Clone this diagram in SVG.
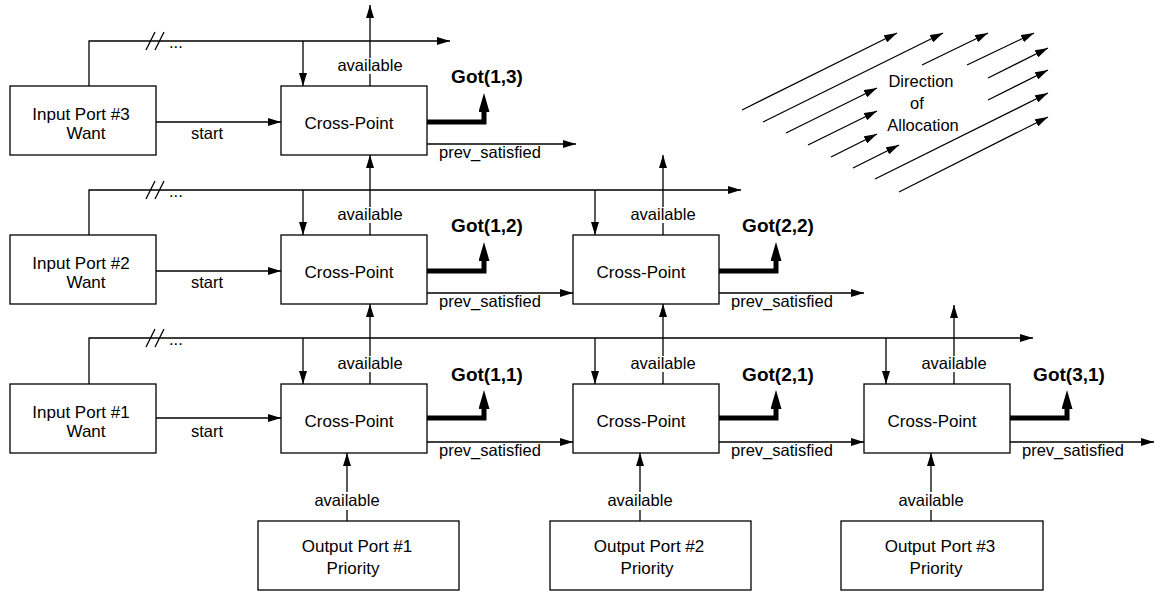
<svg xmlns="http://www.w3.org/2000/svg" width="1155" height="592" viewBox="0 0 1155 592">
<defs>
<style>
.box{fill:#fff;stroke:#000;stroke-width:1.3}
.ln{fill:none;stroke:#000;stroke-width:1.3}
.arr{marker-end:url(#ah)}
.thk{fill:none;stroke:#000;stroke-width:5;stroke-linejoin:miter;marker-end:url(#th)}
text{font-family:"Liberation Sans",Arial,Helvetica,sans-serif;fill:#000}
.lbl{font-size:16.5px}
.mid{text-anchor:middle}
.nl{font-size:17px;text-anchor:middle}
.got{font-size:19px;font-weight:bold;text-anchor:middle}
</style>
<marker id="ah" viewBox="0 0 13 8" refX="13" refY="4" markerWidth="13" markerHeight="8" orient="auto" markerUnits="userSpaceOnUse"><path d="M0,0 L13,4 L0,8 z" fill="#000"/></marker>
<marker id="th" viewBox="0 0 19 11" refX="0" refY="5.5" markerWidth="19" markerHeight="11" orient="auto" markerUnits="userSpaceOnUse"><path d="M0,0 L19,5.5 L0,11 z" fill="#000"/></marker>
</defs>
<rect width="1155" height="592" fill="#fff"/>

<g id="connectors">
  <!-- want buses -->
  <path class="ln arr" d="M89,86 V41 H450"/>
  <path class="ln arr" d="M89,235 V190 H741"/>
  <path class="ln arr" d="M89,384 V338 H1033"/>
  <!-- bus break marks -->
  <path class="ln" d="M146,50 L155,32 M155,50 L164,32"/>
  <path class="ln" d="M146,199 L155,181 M155,199 L164,181"/>
  <path class="ln" d="M146,347 L155,329 M155,347 L164,329"/>
  <text class="lbl" x="169" y="48">...</text>
  <text class="lbl" x="169" y="197">...</text>
  <text class="lbl" x="169" y="345">...</text>
  <!-- down arrows from buses -->
  <path class="ln arr" d="M303,41 V86"/>
  <path class="ln arr" d="M303,190 V235"/>
  <path class="ln arr" d="M595,190 V235"/>
  <path class="ln arr" d="M303,338 V384"/>
  <path class="ln arr" d="M595,338 V384"/>
  <path class="ln arr" d="M886,338 V384"/>
  <!-- start -->
  <path class="ln arr" d="M156,122 H281"/>
  <path class="ln arr" d="M156,271 H281"/>
  <path class="ln arr" d="M156,418 H281"/>
  <text class="lbl mid" x="207" y="139">start</text>
  <text class="lbl mid" x="207" y="288">start</text>
  <text class="lbl mid" x="207" y="437">start</text>
  <!-- available upward -->
  <path class="ln" d="M370,86 V74"/><path class="ln arr" d="M370,58 V5"/>
  <text class="lbl mid" x="370" y="71">available</text>
  <path class="ln" d="M370,235 V223"/><path class="ln arr" d="M370,207 V155"/>
  <text class="lbl mid" x="370" y="220">available</text>
  <path class="ln" d="M663,235 V223"/><path class="ln arr" d="M663,207 V155"/>
  <text class="lbl mid" x="663" y="220">available</text>
  <path class="ln" d="M370,384 V372"/><path class="ln arr" d="M370,356 V304"/>
  <text class="lbl mid" x="370" y="369">available</text>
  <path class="ln" d="M663,384 V372"/><path class="ln arr" d="M663,356 V304"/>
  <text class="lbl mid" x="663" y="369">available</text>
  <path class="ln" d="M954,384 V372"/><path class="ln arr" d="M954,356 V305"/>
  <text class="lbl mid" x="954" y="369">available</text>
  <!-- available from output ports -->
  <path class="ln" d="M347,521 V510"/><path class="ln arr" d="M347,492 V453"/>
  <text class="lbl mid" x="347" y="506">available</text>
  <path class="ln" d="M640,521 V510"/><path class="ln arr" d="M640,492 V453"/>
  <text class="lbl mid" x="640" y="506">available</text>
  <path class="ln" d="M931,521 V510"/><path class="ln arr" d="M931,492 V453"/>
  <text class="lbl mid" x="931" y="506">available</text>
  <!-- Got outputs -->
  <path class="thk" d="M427,122 H484 V112"/>
  <text class="got" x="487" y="83">Got(1,3)</text>
  <path class="thk" d="M427,271 H484 V261"/>
  <text class="got" x="487" y="232">Got(1,2)</text>
  <path class="thk" d="M719,271 H776 V261"/>
  <text class="got" x="778" y="232">Got(2,2)</text>
  <path class="thk" d="M427,418 H484 V409"/>
  <text class="got" x="487" y="381">Got(1,1)</text>
  <path class="thk" d="M719,418 H776 V409"/>
  <text class="got" x="778" y="381">Got(2,1)</text>
  <path class="thk" d="M1010,418 H1067 V409"/>
  <text class="got" x="1069" y="381">Got(3,1)</text>
  <!-- prev_satisfied -->
  <path class="ln arr" d="M427,144 H576"/>
  <text class="lbl" x="439" y="158">prev_satisfied</text>
  <path class="ln arr" d="M427,293 H573"/>
  <text class="lbl" x="439" y="307">prev_satisfied</text>
  <path class="ln arr" d="M719,293 H864"/>
  <text class="lbl" x="731" y="307">prev_satisfied</text>
  <path class="ln arr" d="M427,442 H573"/>
  <text class="lbl" x="439" y="456">prev_satisfied</text>
  <path class="ln arr" d="M719,442 H864"/>
  <text class="lbl" x="731" y="456">prev_satisfied</text>
  <path class="ln arr" d="M1010,442 H1154"/>
  <text class="lbl" x="1022" y="456">prev_satisfied</text>
</g>

<g id="direction">
  <path class="ln arr" d="M742,110 L897,33"/>
  <path class="ln arr" d="M763,122 L943,33"/>
  <path class="ln arr" d="M786,133 L877,88"/>
  <path class="ln arr" d="M922,65 L988,33"/>
  <path class="ln arr" d="M808,145 L877,111"/>
  <path class="ln arr" d="M967,65 L1034,33"/>
  <path class="ln arr" d="M831,157 L877,134"/>
  <path class="ln arr" d="M988,78 L1048,48"/>
  <path class="ln arr" d="M853,168 L899,145"/>
  <path class="ln arr" d="M988,100 L1048,70"/>
  <path class="ln arr" d="M875,179 L1048,93"/>
  <path class="ln arr" d="M899,192 L1048,117"/>
  <text class="lbl mid" x="921" y="87">Direction</text>
  <text class="lbl mid" x="917" y="109">of</text>
  <text class="lbl mid" x="923" y="131">Allocation</text>
</g>

<g id="input3"><rect class="box" x="10" y="86" width="146" height="69"/><text class="nl" x="81" y="120">Input Port #3</text><text class="nl" x="86" y="139">Want</text></g>
<g id="input2"><rect class="box" x="10" y="235" width="146" height="69"/><text class="nl" x="81" y="269">Input Port #2</text><text class="nl" x="86" y="288">Want</text></g>
<g id="input1"><rect class="box" x="10" y="384" width="146" height="69"/><text class="nl" x="81" y="418">Input Port #1</text><text class="nl" x="86" y="437">Want</text></g>

<g id="cp13"><rect class="box" x="281" y="86" width="146" height="69"/><text class="nl" x="349" y="129">Cross-Point</text></g>
<g id="cp12"><rect class="box" x="281" y="235" width="146" height="69"/><text class="nl" x="349" y="278">Cross-Point</text></g>
<g id="cp22"><rect class="box" x="573" y="235" width="146" height="69"/><text class="nl" x="641" y="278">Cross-Point</text></g>
<g id="cp11"><rect class="box" x="281" y="384" width="146" height="69"/><text class="nl" x="349" y="427">Cross-Point</text></g>
<g id="cp21"><rect class="box" x="573" y="384" width="146" height="69"/><text class="nl" x="641" y="427">Cross-Point</text></g>
<g id="cp31"><rect class="box" x="864" y="384" width="146" height="69"/><text class="nl" x="932" y="427">Cross-Point</text></g>

<g id="output1"><rect class="box" x="258" y="521" width="201" height="69"/><text class="nl" x="357" y="552">Output Port #1</text><text class="nl" x="353" y="574">Priority</text></g>
<g id="output2"><rect class="box" x="550" y="521" width="201" height="69"/><text class="nl" x="649" y="552">Output Port #2</text><text class="nl" x="647" y="574">Priority</text></g>
<g id="output3"><rect class="box" x="841" y="521" width="202" height="69"/><text class="nl" x="940" y="552">Output Port #3</text><text class="nl" x="936" y="574">Priority</text></g>
</svg>
